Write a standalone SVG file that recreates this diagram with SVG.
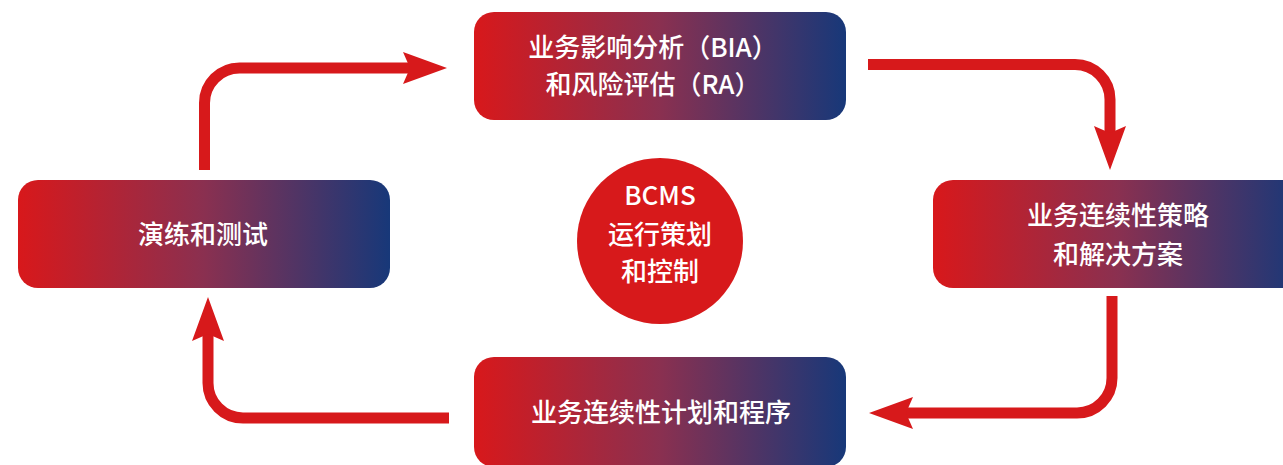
<svg xmlns="http://www.w3.org/2000/svg" width="1283" height="465" viewBox="0 0 1283 465">
<defs>
<linearGradient id="g" x1="0" y1="0" x2="1" y2="0">
<stop offset="0" stop-color="#D8181B"/>
<stop offset="0.5" stop-color="#8A3050"/>
<stop offset="1" stop-color="#173879"/>
</linearGradient>
<style>
.box{fill:url(#g);}
.t{font-family:"Noto Sans CJK SC","Noto Sans",sans-serif;font-size:26px;font-weight:500;fill:#FFFFFF;text-anchor:middle;}
.c{fill:none;stroke:#D7191B;stroke-width:11;}
.h{fill:#D7191B;}
</style>
</defs>
<g id="connectors">
<path class="c" d="M204.5,170 V103 A35,35 0 0 1 239.5,68 H413"/>
<polygon class="h" points="403,52 447,68 403,84 410,68"/>
<path class="c" d="M868,64.5 H1075 A35,35 0 0 1 1110,99.5 V136"/>
<polygon class="h" points="1094,126 1110,170 1126,126 1110,133"/>
<path class="c" d="M1112,296 V378 A35,35 0 0 1 1077,413 H903"/>
<polygon class="h" points="913,397 869,413 913,429 906,413"/>
<path class="c" d="M449,418 H243 A35,35 0 0 1 208,383 V331"/>
<polygon class="h" points="192,341 208,297 224,341 208,334"/>
</g>
<g id="bia">
<rect class="box" x="474" y="12" width="372" height="108" rx="20"/>
<text class="t" x="653" y="57">业务影响分析（BIA）</text>
<text class="t" x="653" y="94">和风险评估（RA）</text>
</g>
<g id="strategy">
<rect class="box" x="933" y="180" width="370" height="108" rx="20"/>
<text class="t" x="1118" y="225">业务连续性策略</text>
<text class="t" x="1118" y="264">和解决方案</text>
</g>
<g id="plan">
<rect class="box" x="474" y="357" width="372" height="110" rx="20"/>
<text class="t" x="661" y="422">业务连续性计划和程序</text>
</g>
<g id="exercise">
<rect class="box" x="18" y="180" width="372" height="108" rx="20"/>
<text class="t" x="203" y="244">演练和测试</text>
</g>
<g id="bcms">
<circle cx="660" cy="241" r="83" fill="#D7191B"/>
<text class="t" x="660" y="205">BCMS</text>
<text class="t" x="660" y="244">运行策划</text>
<text class="t" x="660" y="281">和控制</text>
</g>
</svg>
